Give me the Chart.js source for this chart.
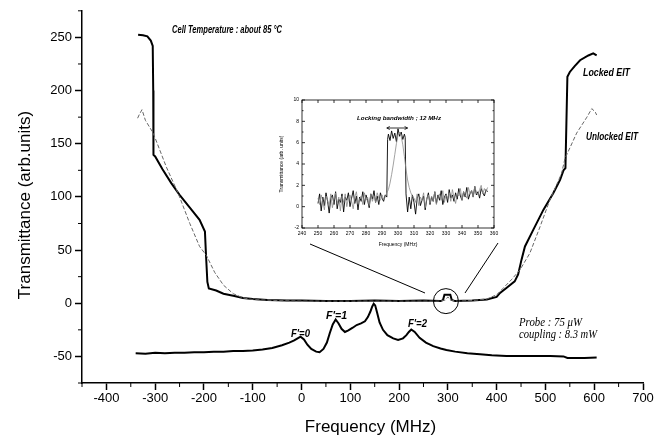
<!DOCTYPE html>
<html>
<head>
<meta charset="utf-8">
<script src="https://cdn.jsdelivr.net/npm/chart.js@4"></script>
<style>
  html, body { margin: 0; padding: 0; background: #fff; }
  #wrap { position: relative; width: 665px; height: 441px; }
  #main { position: absolute; left: 0; top: 0; }
  #inset { position: absolute; left: 270px; top: 92px; }
</style>
</head>
<body>
<div id="wrap">
  <canvas id="main" width="665" height="441"></canvas>
  <canvas id="inset" width="232" height="160"></canvas>
</div>
<script>
// main figure: locked / unlocked EIT, frequency in MHz
const lockedX = [-335, -325, -316, -309, -305, -304, -303.5, -300, -285, -267, -250, -229, -209, -198, -196, -193, -190,
  -175, -160, -140, -120, -100, -70, -30, 0, 50, 100, 150, 200, 250, 285, 290, 293, 305, 308, 315, 350, 380, 400,
  407, 420, 437, 444, 451, 458, 475, 496, 516, 530, 537, 541, 543, 545, 550, 560, 571, 588, 598, 605];
const lockedY = [252.5, 252, 251, 247, 242, 200, 139.5, 138, 126, 113, 102, 90, 78.5, 67.5, 47, 20, 14,
  12, 9, 7, 5, 4, 3, 2.5, 2.5, 2, 2, 2.5, 2, 2.5, 2, 3, 8, 8, 3, 2, 2.5, 3.5, 6,
  9.7, 14.4, 20.6, 27, 41, 53.4, 69, 88, 103.5, 116, 125, 127, 170, 213, 217.5, 223, 228.5, 233, 235, 233];

const unlockedX = [-336, -332, -327, -320, -304, -277, -253, -229, -209, -195, -178, -160, -140, -120, -100, -50, 0,
  100, 200, 280, 295, 300, 305, 320, 350, 380, 400, 413, 430, 448, 468, 489, 509, 533, 540, 564, 585, 595, 602, 605];
const unlockedY = [174, 178, 182, 172, 160, 128, 103.5, 75, 53.4, 45, 29, 17, 9, 5, 3.5, 2.5, 2,
  2, 2, 2, 3, 6, 3, 2, 2.5, 4, 8, 14, 22, 31.6, 47, 72, 97, 122, 136, 160, 175, 183, 180, 177];

// hyperfine spectrum (lower trace)
const spectrumX = [-340, -320, -300, -280, -260, -240, -220, -200, -180, -160, -140, -120, -100, -80, -60, -40, -25,
  -15, -8, -2, 5, 12, 20, 30, 37, 45, 52, 58, 64, 70, 76, 82, 89, 96, 105, 113, 122, 130, 136, 141, 145, 148, 151,
  155, 160, 167, 176, 188, 198, 208, 215, 220, 225, 232, 242, 255, 270, 285, 297, 315, 340, 366, 390, 420, 450,
  480, 510, 537, 545, 560, 580, 605];
const spectrumY = [-47, -47.5, -46.5, -47, -46.5, -46.5, -46, -46, -45.5, -45.5, -45, -45, -44.5, -43.5, -42, -39.5, -37,
  -35, -33, -31.5, -34, -39, -43, -45.5, -46, -43, -37, -28, -20, -15.3, -19, -24, -27, -25.5, -23, -20.5, -19, -17, -13, -8, -3, -0.5, -2,
  -9, -18, -25, -30, -33, -34.5, -33, -30, -27, -24.7, -27, -32.5, -37, -40.3, -42.5, -44, -45.5, -47, -48, -49, -49.5, -49.5,
  -49.7, -49.5, -50, -51.5, -51.5, -51.5, -51];

// inset: locking region 240-360 MHz
const insetLockedX = [250, 251, 252, 253, 254, 255, 256, 257, 258, 259, 260, 261, 262, 263, 264, 265, 266, 267, 268, 269,
  270, 271, 272, 273, 274, 275, 276, 277, 278, 279, 280, 281, 282, 283, 284, 285, 286, 287, 288, 289, 290, 291, 292,
  293, 293.5, 294, 295, 296, 297, 298, 299, 300, 301, 302, 303, 304, 304.5, 305,
  306, 307, 308, 309, 310, 311, 312, 313, 314, 315, 316, 317, 318, 319, 320, 321, 322, 323, 324, 325, 326, 327, 328, 329,
  330, 331, 332, 333, 334, 335, 336, 337, 338, 339, 340, 341, 342, 343, 344, 345, 346, 347, 348, 349, 350, 351, 352, 353,
  354, 355, 356];
const insetLockedY = [0.3, 1.2, -0.4, 0.9, 0.1, 1.3, 0.5, -0.6, 0.8, 1.1, 0.2, 1.4, -0.2, 0.7, 0.4, 1.2, -0.5, 0.9, 0.6, 1.3,
  0.0, 0.8, 1.5, 0.3, 1.0, -0.3, 0.9, 0.5, 1.4, 0.2, 1.1, 0.6, -0.1, 1.2, 0.7, 1.5, 0.4, 1.0, 0.2, 1.3, 0.8, 0.5, 1.1,
  0.9, 6.3, 6.8, 6.2, 7.1, 6.4, 6.9, 6.1, 7.3, 6.6, 7.0, 6.3, 6.8, 6.5, 1.2,
  -0.5, 0.9, -0.2, 1.1, 0.4, -0.7, 0.8, 1.2, 0.1, 0.6, 1.0, -0.3, 0.7, 1.3, 0.2, 0.9, 0.5, 1.4, 0.3, 1.1,
  0.6, 1.5, 0.2, 0.9, 1.2, 0.4, 1.6, 0.8, 1.1, 0.5, 1.3, 0.7, 1.7, 1.0, 0.6, 1.4, 0.9, 1.8, 0.7, 1.2,
  1.5, 0.9, 1.9, 1.1, 1.4, 0.8, 1.7, 1.3, 1.0, 1.6, 1.4];
const insetUnlockedX = [250, 251, 252, 253, 254, 255, 256, 257, 258, 259, 260, 261, 262, 263, 264, 265, 266, 267, 268, 269,
  270, 271, 272, 273, 274, 275, 276, 277, 278, 279, 280, 281, 282, 283, 284, 285, 286, 287, 288, 289, 290, 291,
  292, 293, 294, 295, 296, 297, 298, 299, 300, 301, 302, 303, 304, 305, 306, 307, 308, 309, 310,
  311, 312, 313, 314, 315, 316, 317, 318, 319, 320, 321, 322, 323, 324, 325, 326, 327, 328, 329, 330, 331, 332, 333,
  334, 335, 336, 337, 338, 339, 340, 341, 342, 343, 344, 345, 346, 347, 348, 349, 350, 351, 352, 353, 354, 355, 356];
const insetUnlockedY = [0.8, 0.2, 1.1, 0.5, -0.3, 1.0, 0.6, 0.1, 1.2, -0.1, 0.7, 1.3, 0.3, 0.9, -0.4, 1.0, 0.4, 1.2, 0.0, 0.8,
  1.1, 0.5, -0.2, 0.9, 1.4, 0.3, 0.7, 1.0, 0.2, 1.3, 0.6, 0.9, 0.1, 1.2, 0.5, 1.0, 0.4, 1.3, 0.8, 0.6, 1.1, 0.7,
  0.9, 1.3, 1.6, 2.2, 3.0, 3.9, 4.9, 5.9, 6.7, 7.0, 6.6, 5.8, 4.7, 3.5, 2.5, 1.8, 1.3, 1.0, 0.8,
  0.4, 1.2, 0.1, 0.9, 0.6, 1.3, -0.1, 0.8, 1.1, 0.3, 1.0, 0.5, 1.4, 0.2, 0.9, 1.2, 0.6, 1.5, 0.4, 1.1,
  0.8, 1.3, 0.5, 1.6, 0.9, 0.3, 1.2, 1.0, 1.7, 0.6, 1.4, 1.1, 0.8, 1.8, 1.2, 1.5, 0.9, 1.9, 1.3, 1.1,
  1.6, 2.0, 1.2, 1.7, 1.4, 1.8];

const zip = (xs, ys) => xs.map((x, i) => ({ x, y: ys[i] }));
const SANS = '"Liberation Sans", Arial, sans-serif';
const SERIF = '"Liberation Serif", "Times New Roman", serif';

// text squeezed or stretched to a given width
function fitText(ctx, txt, x, y, w, font) {
  ctx.save();
  ctx.font = font;
  ctx.textBaseline = 'middle';
  ctx.textAlign = 'left';
  const m = ctx.measureText(txt).width;
  ctx.translate(x, y);
  ctx.scale(w / m, 1);
  ctx.fillStyle = '#000';
  ctx.fillText(txt, 0, 0);
  ctx.restore();
}

const labels = [
  ['Cell Temperature : about 85 °C', 172, 30, 110, 'italic bold 10px ' + SANS],
  ['Locked EIT', 583, 73, 47, 'italic bold 10px ' + SANS],
  ['Unlocked EIT', 586, 137, 52, 'italic bold 10px ' + SANS],
  ["F'=0", 291, 334, 19, 'italic bold 10px ' + SANS],
  ["F'=1", 326, 316, 21, 'italic bold 10px ' + SANS],
  ["F'=2", 408, 324, 19, 'italic bold 10px ' + SANS],
  ['Probe : 75 μW', 519, 323, 63, 'italic 12px ' + SERIF],
  ['coupling : 8.3 mW', 519, 335, 78, 'italic 12px ' + SERIF]
];

const mainDecor = {
  id: 'mainDecor',
  afterDraw(chart) {
    const { ctx, scales: { x, y } } = chart;
    ctx.save();
    ctx.strokeStyle = '#000';
    ctx.lineWidth = 1;
    // minor ticks
    ctx.beginPath();
    x.ticks.forEach(t => {
      if (t.value % 100 !== 0) {
        const px = x.getPixelForValue(t.value);
        ctx.moveTo(px, y.bottom); ctx.lineTo(px, y.bottom + 4);
      }
    });
    y.ticks.forEach(t => {
      if (t.value % 50 !== 0) {
        const py = y.getPixelForValue(t.value);
        ctx.moveTo(x.left, py); ctx.lineTo(x.left - 4, py);
      }
    });
    ctx.stroke();

    // circle around the locking point and lines to the inset
    ctx.beginPath();
    ctx.arc(x.getPixelForValue(296), y.getPixelForValue(2), 12.5, 0, Math.PI * 2);
    ctx.stroke();
    ctx.beginPath();
    ctx.moveTo(310, 244); ctx.lineTo(425, 293);
    ctx.moveTo(498, 243); ctx.lineTo(465, 293);
    ctx.stroke();

    // axis titles
    ctx.fillStyle = '#000';
    ctx.font = '17px ' + SANS;
    ctx.textAlign = 'center';
    ctx.textBaseline = 'middle';
    ctx.fillText('Frequency (MHz)', (x.left + x.right) / 2 + 8, 427);
    ctx.save();
    ctx.translate(25, 205);
    ctx.rotate(-Math.PI / 2);
    ctx.fillText('Transmittance (arb.units)', 0, 0);
    ctx.restore();
    ctx.restore();

    labels.forEach(l => fitText(ctx, l[0], l[1], l[2], l[3], l[4]));
  }
};

new Chart(document.getElementById('main'), {
  type: 'line',
  data: {
    datasets: [
      { label: 'Unlocked EIT', data: zip(unlockedX, unlockedY), borderColor: '#666', borderWidth: 1, borderDash: [4, 2] },
      { label: 'Locked EIT', data: zip(lockedX, lockedY), borderColor: '#000', borderWidth: 2 },
      { label: 'Spectrum', data: zip(spectrumX, spectrumY), borderColor: '#000', borderWidth: 2 }
    ]
  },
  options: {
    responsive: false,
    devicePixelRatio: 1,
    animation: false,
    elements: { point: { radius: 0 }, line: { tension: 0 } },
    layout: { padding: { left: 0, right: 22, top: 10, bottom: 0 } },
    plugins: { legend: { display: false }, tooltip: { enabled: false } },
    scales: {
      x: {
        type: 'linear', min: -450, max: 700,
        afterFit: s => { s.height = 58; },
        ticks: {
          stepSize: 50, color: '#000', padding: 1, maxRotation: 0, autoSkip: false,
          font: { family: SANS, size: 13 },
          callback: v => (v % 100 === 0 ? v : '')
        },
        grid: {
          drawOnChartArea: false, tickLength: 7, tickWidth: 1.5,
          tickColor: c => (c.tick && c.tick.value % 100 === 0 ? '#000' : 'rgba(0,0,0,0)')
        },
        border: { color: '#000', width: 1.5 }
      },
      y: {
        type: 'linear', min: -75, max: 275,
        afterFit: s => { s.width = 82; },
        ticks: {
          stepSize: 25, color: '#000', padding: 3, autoSkip: false,
          font: { family: SANS, size: 13 },
          callback: v => (v % 50 === 0 ? v : '')
        },
        grid: {
          drawOnChartArea: false, tickLength: 7, tickWidth: 1.5,
          tickColor: c => (c.tick && c.tick.value % 50 === 0 ? '#000' : 'rgba(0,0,0,0)')
        },
        border: { color: '#000', width: 1.5 }
      }
    }
  },
  plugins: [mainDecor]
});

const insetDecor = {
  id: 'insetDecor',
  afterDraw(chart) {
    const { ctx, chartArea: a, scales: { x, y } } = chart;
    ctx.save();
    ctx.strokeStyle = '#000';
    ctx.lineWidth = 0.8;
    ctx.strokeRect(a.left, a.top, a.right - a.left, a.bottom - a.top);
    ctx.beginPath();
    x.ticks.forEach(t => {
      const px = x.getPixelForValue(t.value);
      ctx.moveTo(px, a.bottom); ctx.lineTo(px, a.bottom - 3);
      ctx.moveTo(px, a.top); ctx.lineTo(px, a.top + 3);
    });
    y.ticks.forEach(t => {
      const py = y.getPixelForValue(t.value);
      const len = t.value % 2 === 0 ? 3 : 1.5;
      ctx.moveTo(a.left, py); ctx.lineTo(a.left + len, py);
      ctx.moveTo(a.right, py); ctx.lineTo(a.right - len, py);
    });
    ctx.stroke();

    // locking bandwidth arrow
    const x1 = x.getPixelForValue(293), x2 = x.getPixelForValue(306), ya = 36;
    ctx.beginPath();
    ctx.moveTo(x1, ya); ctx.lineTo(x2, ya);
    ctx.moveTo(x1 + 3, ya - 1.5); ctx.lineTo(x1, ya); ctx.lineTo(x1 + 3, ya + 1.5);
    ctx.moveTo(x2 - 3, ya - 1.5); ctx.lineTo(x2, ya); ctx.lineTo(x2 - 3, ya + 1.5);
    ctx.stroke();
    ctx.restore();

    fitText(ctx, 'Locking bandwidth ; 12 MHz', 87, 26, 84, 'italic bold 6px ' + SANS);

    ctx.save();
    ctx.fillStyle = '#000';
    ctx.font = '5px ' + SANS;
    ctx.textAlign = 'center';
    ctx.textBaseline = 'middle';
    ctx.fillText('Frequency (MHz)', (a.left + a.right) / 2, 153);
    ctx.translate(12, (a.top + a.bottom) / 2);
    ctx.rotate(-Math.PI / 2);
    ctx.fillText('Transmittance (arb. units)', 0, 0);
    ctx.restore();
  }
};

new Chart(document.getElementById('inset'), {
  type: 'line',
  data: {
    datasets: [
      { label: 'Unlocked', data: zip(insetUnlockedX, insetUnlockedY), borderColor: '#8a8a8a', borderWidth: 0.8 },
      { label: 'Locked', data: zip(insetLockedX, insetLockedY), borderColor: '#000', borderWidth: 0.9 }
    ]
  },
  options: {
    responsive: false,
    devicePixelRatio: 1,
    animation: false,
    elements: { point: { radius: 0 }, line: { tension: 0 } },
    layout: { padding: { left: 0, right: 8, top: 8, bottom: 0 } },
    plugins: { legend: { display: false }, tooltip: { enabled: false } },
    scales: {
      x: {
        type: 'linear', min: 240, max: 360,
        afterFit: s => { s.height = 24; },
        ticks: {
          stepSize: 10, color: '#000', padding: 3, maxRotation: 0, autoSkip: false,
          font: { family: SANS, size: 5 }
        },
        grid: { display: false, tickLength: 0 },
        border: { display: false }
      },
      y: {
        type: 'linear', min: -2, max: 10,
        afterFit: s => { s.width = 32; },
        ticks: {
          stepSize: 1, color: '#000', padding: 3, autoSkip: false,
          font: { family: SANS, size: 5 },
          callback: v => (v % 2 === 0 ? v : '')
        },
        grid: { display: false, tickLength: 0 },
        border: { display: false }
      }
    }
  },
  plugins: [insetDecor]
});
</script>
</body>
</html>
